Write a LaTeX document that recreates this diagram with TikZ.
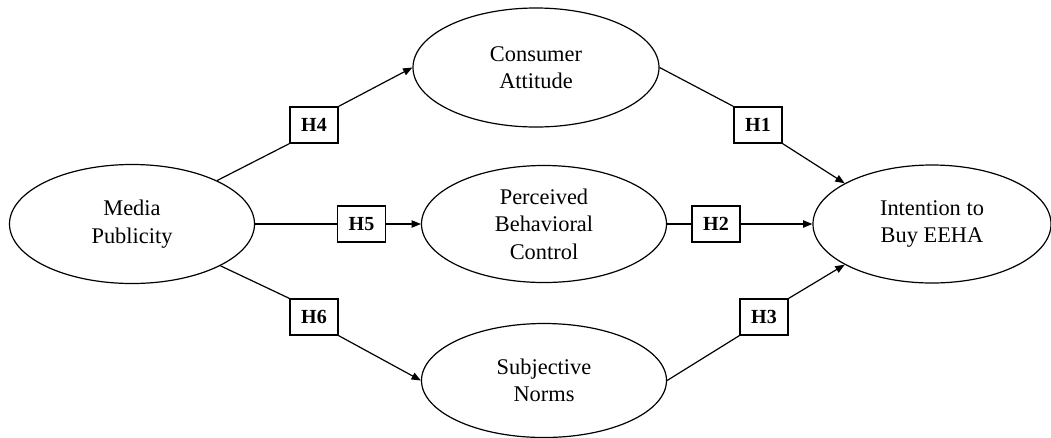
\documentclass[tikz,border=0pt]{standalone}
\usepackage{fontspec}
\setmainfont{Liberation Serif}
\usetikzlibrary{shapes.geometric,arrows.meta}
\begin{document}
\begin{tikzpicture}[x=0.75pt,y=-0.75pt,
  construct/.style={ellipse,draw,line width=0.9pt,inner sep=0pt,align=center,font=\fontsize{16.8}{20.5}\selectfont},
  hyp/.style={rectangle,draw,fill=white,line width=0.9pt,minimum width=36pt,minimum height=27pt,inner sep=0pt,font=\fontsize{15}{18}\selectfont\bfseries},
  link/.style={line width=0.9pt},
  arr/.style={line width=0.9pt,-{Triangle[length=7pt,width=5.5pt]}}]
\useasboundingbox (0,0) rectangle (1051,437);
\clip (0,0) rectangle (1051,437);
\node[construct,minimum width=183.75pt,minimum height=89.25pt] (mp) at (132,224) {Media\\Publicity};
\node[construct,minimum width=184.5pt,minimum height=89.25pt] (ca) at (536,67.5) {Consumer\\Attitude};
\node[construct,minimum width=183.75pt,minimum height=87.75pt] (pbc) at (544,224) {Perceived\\Behavioral\\Control};
\node[construct,minimum width=183.75pt,minimum height=85.5pt] (sn) at (544,380.5) {Subjective\\Norms};
\node[construct,minimum width=178.5pt,minimum height=88.5pt] (int) at (932,224) {Intention to\\Buy EEHA};
\node[hyp] (h4) at (314,125) {H4};
\node[hyp] (h5) at (361.5,224) {H5};
\node[hyp] (h6) at (314,317) {H6};
\node[hyp] (h1) at (758,125) {H1};
\node[hyp] (h2) at (716,224) {H2};
\node[hyp] (h3) at (764,317) {H3};
\draw[link] (mp) -- (h4.south west);
\draw[arr] (h4.north east) -- (ca.west);
\draw[link] (mp.east) -- (h5.west);
\draw[arr] (h5.east) -- (pbc.west);
\draw[link] (mp) -- (h6.north west);
\draw[arr] (h6.south east) -- (sn.west);
\draw[link] (ca.east) -- (h1.north west);
\draw[arr] (h1.south east) -- (int.155);
\draw[link] (pbc.east) -- (h2.west);
\draw[arr] (h2.east) -- (int.west);
\draw[link] (sn.east) -- (h3.south west);
\draw[arr] (h3.north east) -- (int.205);
\end{tikzpicture}
\end{document}
